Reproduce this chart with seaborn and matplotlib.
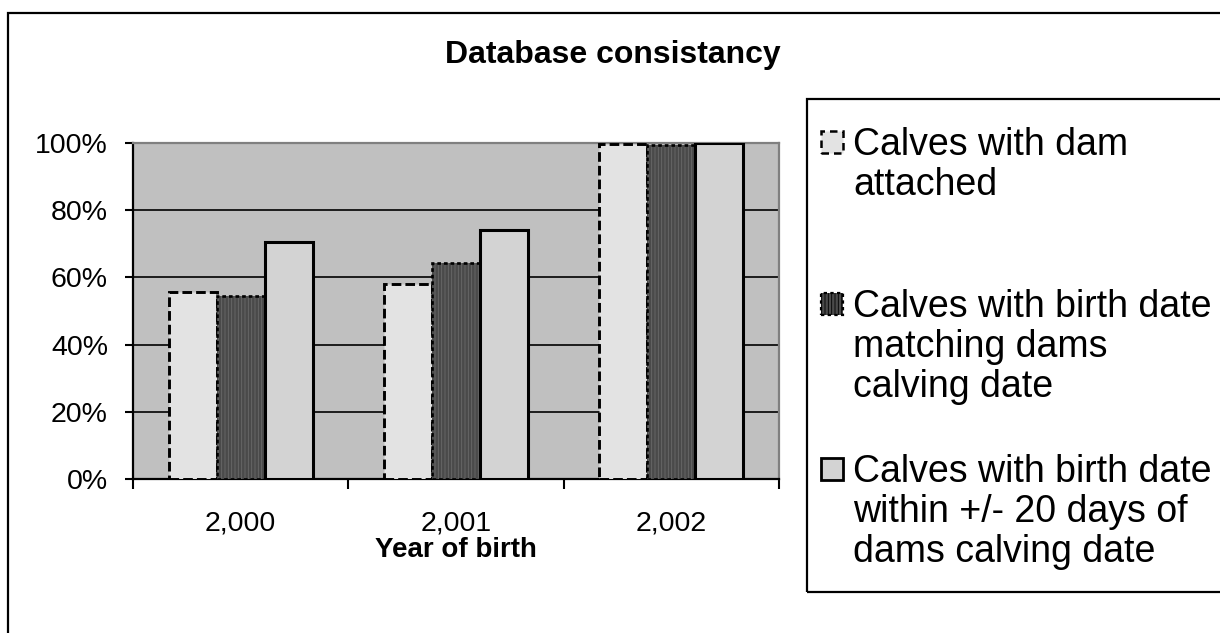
import matplotlib
matplotlib.use("Agg")
import matplotlib.pyplot as plt
from matplotlib.patches import Rectangle
from matplotlib.ticker import PercentFormatter
import seaborn as sns
import pandas as pd

# ---------------- data ----------------
years = ["2,000", "2,001", "2,002"]
series = [
    "Calves with dam attached",
    "Calves with birth date matching dams calving date",
    "Calves with birth date within +/- 20 days of dams calving date",
]
legend_lines = [
    ["Calves with dam", "attached"],
    ["Calves with birth date", "matching dams", "calving date"],
    ["Calves with birth date", "within +/- 20 days of", "dams calving date"],
]
dam_attached = [0.557, 0.580, 0.998]
birth_matching = [0.545, 0.643, 0.994]
birth_within_20 = [0.705, 0.741, 0.999]
y_ticks = [0.0, 0.2, 0.4, 0.6, 0.8, 1.0]

df = pd.DataFrame({
    "year": years * 3,
    "series": [series[0]] * 3 + [series[1]] * 3 + [series[2]] * 3,
    "share": dam_attached + birth_matching + birth_within_20,
})

# ---------------- style ----------------
sns.set_style("white")
plt.rcParams["font.family"] = ["Liberation Sans", "DejaVu Sans"]
plt.rcParams["hatch.linewidth"] = 0.6
for key in ["text.color", "axes.labelcolor", "xtick.color", "ytick.color"]:
    plt.rcParams[key] = "black"

face_colors = ["#E3E3E3", "#4A4A4A", "#D3D3D3"]
W, H = 1220, 633

fig = plt.figure(figsize=(W / 100, H / 100), dpi=100)
fig.patch.set_facecolor("white")
ax = fig.add_axes([133 / W, 1 - 479 / H, (779 - 133) / W, (479 - 143) / H])
ax.set_facecolor("#C0C0C0")

sns.barplot(data=df, x="year", y="share", hue="series", order=years,
            hue_order=series, palette=face_colors, saturation=1,
            width=0.67, ax=ax, legend=False, errorbar=None)

# style each series
for bar in ax.containers[0]:
    bar.set_edgecolor("black")
    bar.set_linewidth(2.1)
    bar.set_linestyle((0, (3.3, 1.4)))
    bar.set_zorder(3)
for bar in ax.containers[1]:
    bar.set_hatch("|||||")
    bar.set_edgecolor("#6A6A6A")
    bar.set_linewidth(0)
    bar.set_zorder(3)
    ax.add_patch(Rectangle((bar.get_x(), bar.get_y()), bar.get_width(),
                           bar.get_height(), fill=False, ec="black",
                           lw=1.9, ls=(0, (1.4, 1.1)), zorder=3.1))
for bar in ax.containers[2]:
    bar.set_edgecolor("black")
    bar.set_linewidth(2.2)
    bar.set_zorder(3)

# axes
ax.set_ylim(0, 1)
ax.set_xlim(-0.5, len(years) - 0.5)
ax.set_yticks(y_ticks)
ax.yaxis.set_major_formatter(PercentFormatter(1.0, decimals=0))
ax.set_xticks([i - 0.5 for i in range(len(years) + 1)], minor=True)
ax.set_xlabel("")
ax.set_ylabel("")

ax.set_axisbelow(True)
ax.yaxis.grid(True, color="black", lw=1.2)
ax.xaxis.grid(False)
ax.get_ygridlines()[-1].set_visible(False)

ax.tick_params(axis="y", length=6, width=1.5, pad=12, labelsize=20.5,
               direction="out", left=True, colors="black")
ax.tick_params(axis="x", which="major", length=0, pad=23, labelsize=20.5,
               colors="black")
ax.tick_params(axis="x", which="minor", length=7.5, width=1.5,
               direction="out", bottom=True, colors="black")

for side in ["left", "bottom"]:
    ax.spines[side].set_color("black")
    ax.spines[side].set_linewidth(1.6)
for side in ["top", "right"]:
    ax.spines[side].set_visible(True)
    ax.spines[side].set_color("#808080")
    ax.spines[side].set_linewidth(1.6)

# titles
fig.text(613 / W, 1 - 55 / H, "Database consistancy", ha="center",
         va="center", fontsize=23, fontweight="bold", color="black")
fig.text(456 / W, 1 - 550 / H, "Year of birth", ha="center", va="center",
         fontsize=20, fontweight="bold", color="black")

# outer chart border (cropped at right/bottom)
fig.add_artist(Rectangle((8 / W, -0.2), 1.2, 1.2 - 13 / H,
                         transform=fig.transFigure, fill=False,
                         ec="black", lw=1.6))

# legend box
fig.add_artist(Rectangle((807 / W, 1 - 592 / H), (1240 - 807) / W,
                         (592 - 99) / H, transform=fig.transFigure,
                         fill=False, ec="black", lw=1.6))

marker_styles = [
    dict(ls=(0, (3, 2)), lw=1.8),
    dict(ls=(0, (1.5, 1.5)), lw=1.6),
    dict(ls="-", lw=2.0),
]
first_baselines = [155, 317, 482]
line_step = 40
for i, lines in enumerate(legend_lines):
    b0 = first_baselines[i]
    mk = Rectangle((821 / W, 1 - (b0 - 2) / H), 22 / W, 22 / H,
                   transform=fig.transFigure, fc=face_colors[i],
                   ec="black", **marker_styles[i])
    if i == 1:
        mk.set_hatch("|||||")
    fig.add_artist(mk)
    for j, line in enumerate(lines):
        fig.text(853 / W, 1 - (b0 + j * line_step) / H, line, ha="left",
                 va="baseline", fontsize=27, color="black")

fig.savefig("out.png", dpi=100)
